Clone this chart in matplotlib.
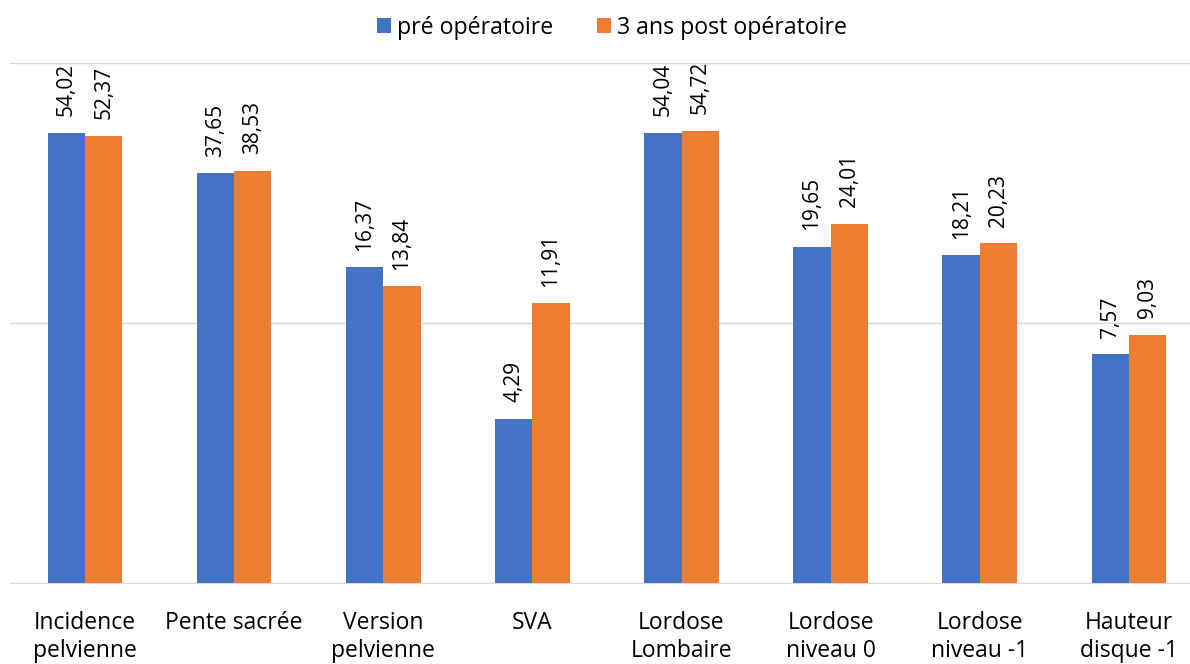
import matplotlib

matplotlib.use('agg')
import matplotlib.pyplot as plt
import numpy as np

categories = ['Incidence\npelvienne', 'Pente sacrée', 'Version\npelvienne', 'SVA',
              'Lordose\nLombaire', 'Lordose\nniveau 0', 'Lordose\nniveau -1', 'Hauteur\ndisque -1']
pre_op = [54.02, 37.65, 16.37, 4.29, 54.04, 19.65, 18.21, 7.57]
post_op = [52.37, 38.53, 13.84, 11.91, 54.72, 24.01, 20.23, 9.03]
series_names = ['pré opératoire', '3 ans post opératoire']

plt.rcParams['font.family'] = ['Open Sans', 'DejaVu Sans']

fig = plt.figure(figsize=(11.9, 6.64), dpi=100)
# plot area runs slightly past the right edge of the image
ax = fig.add_axes([0.0088, 0.122, 1.0025, 0.783])

x = np.arange(len(categories))
w = 0.25
b1 = ax.bar(x - w / 2, pre_op, w, color='#4472C4', label=series_names[0], zorder=3)
b2 = ax.bar(x + w / 2, post_op, w, color='#ED7D31', label=series_names[1], zorder=3)

ax.set_yscale('log')
ax.set_ylim(1, 100)
ax.set_xlim(-0.5, len(categories) - 0.5)
ax.set_yticks([1, 10, 100])
ax.yaxis.set_minor_locator(matplotlib.ticker.NullLocator())
ax.set_yticklabels([])
ax.tick_params(axis='y', length=0)
ax.grid(axis='y', color='#D9D9D9', linewidth=1, zorder=0)

for bars, vals in [(b1, pre_op), (b2, post_op)]:
    for rect, v in zip(bars, vals):
        ax.annotate(('%.2f' % v).replace('.', ','),
                    (rect.get_x() + rect.get_width() / 2, v),
                    xytext=(0, 12), textcoords='offset points',
                    rotation=90, ha='center', va='bottom', fontsize=15, color='#000000')

ax.set_xticks(x)
ax.set_xticklabels(categories, fontsize=16.5, linespacing=1.25)
ax.tick_params(axis='x', length=0, pad=20)

for s in ['top', 'right', 'left']:
    ax.spines[s].set_visible(False)
ax.spines['bottom'].set_color('#D9D9D9')

fig.legend(handles=[b1, b2], loc='center', bbox_to_anchor=(0.514, 0.958), ncol=2,
           frameon=False, fontsize=16.7, handlelength=0.6, handleheight=0.6,
           columnspacing=1.9, handletextpad=0.25)

fig.savefig('out.png')
